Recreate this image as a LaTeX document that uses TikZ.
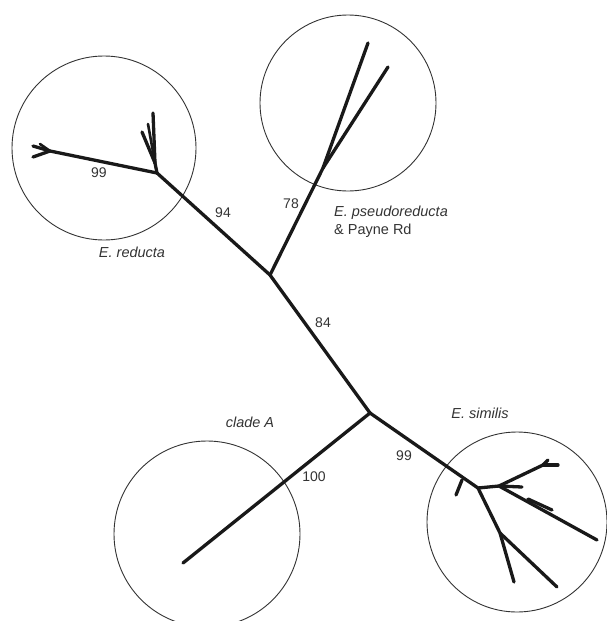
\documentclass[tikz,border=0pt]{standalone}
\usepackage{fontspec}
\setmainfont{Liberation Sans}
\begin{document}
\begin{tikzpicture}[x=1pt,y=-1pt,
  br/.style={line width=3.3pt,line cap=round,line join=round,black!90},
  ring/.style={draw=black!80,line width=0.9pt},
  lab/.style={font=\fontsize{14.5}{16}\selectfont,text=black!80,inner sep=0pt},
  sup/.style={font=\fontsize{14}{15}\selectfont,text=black!80,inner sep=0pt}]
\useasboundingbox (0,0) rectangle (606,621);
% circles
\draw[ring] (104,148) circle (92);
\draw[ring] (348,103) circle (88);
\draw[ring] (517,522) circle (90);
\draw[ring] (207,534) circle (93);
% internal nodes
\coordinate (P1) at (157,173);
\coordinate (P2) at (270,275);
\coordinate (P3) at (370,413);
% reducta
\coordinate (R1) at (50,151);
\coordinate (Ra) at (33,146);
\coordinate (Rb) at (33,157);
\coordinate (Rc) at (40,144);
\coordinate (Q) at (155,163);
\coordinate (Qa) at (153,113);
\coordinate (Qb) at (142,132);
\coordinate (Qc) at (148,124);
% pseudoreducta
\coordinate (J) at (323,168);
\coordinate (Ja) at (368,43);
\coordinate (Jb) at (388,67);
% similis
\coordinate (S) at (478,488);
\coordinate (Sst) at (456,495);
\coordinate (Sst0) at (462,480);
\coordinate (Su) at (499,486);
\coordinate (Suf) at (543,465);
\coordinate (Sua) at (548,460);
\coordinate (Sub) at (558,465);
\coordinate (Suc) at (522,487);
\coordinate (Sl) at (597,540);
\coordinate (Sls) at (552,510);
\coordinate (Sls0) at (528,499);
\coordinate (Sd) at (500,533);
\coordinate (Sda) at (514,582);
\coordinate (Sdb) at (557,587);
% clade A
\coordinate (A) at (183,563);

\draw[br] (P1) -- (P2) -- (P3);
\draw[br] (P1) -- (R1) -- (Ra);
\draw[br] (R1) -- (Rb);
\draw[br,line width=2.6pt] (R1) -- (Rc);
\draw[br] (P1) -- (Q) -- (Qa);
\draw[br] (Q) -- (Qb);
\draw[br,line width=2.6pt] (Q) -- (Qc);
\draw[br] (P2) -- (J) -- (Ja);
\draw[br] (J) -- (Jb);
\draw[br] (P3) -- (S);
\draw[br] (Sst0) -- (Sst);
\draw[br] (S) -- (Su) -- (Suf) -- (Sua);
\draw[br] (Suf) -- (Sub);
\draw[br] (Su) -- (Suc);
\draw[br] (Su) -- (Sl);
\draw[br] (Sls0) -- (Sls);
\draw[br] (S) -- (Sd) -- (Sda);
\draw[br] (Sd) -- (Sdb);
\draw[br] (P3) -- (A);

% support values
\node[sup] (s99a) at (99,173) {99};
\node[sup] (s94) at (223,213) {94};
\node[sup] (s78) at (291,204) {78};
\node[sup] (s84) at (323,323) {84};
\node[sup] (s99b) at (404,456) {99};
\node[sup] (s100) at (314,477) {100};

% clade labels
\node[lab] (Lred) at (132,252) {\itshape E. reducta};
\node[lab,anchor=west] (Lps) at (334,213) {\itshape E. pseudoreducta};
\node[lab,anchor=west] (Lpr) at (334,231) {\& Payne Rd};
\node[lab] (Lsim) at (480,413) {\itshape E. similis};
\node[lab] (Lcla) at (250,422) {\itshape clade A};
\end{tikzpicture}
\end{document}
